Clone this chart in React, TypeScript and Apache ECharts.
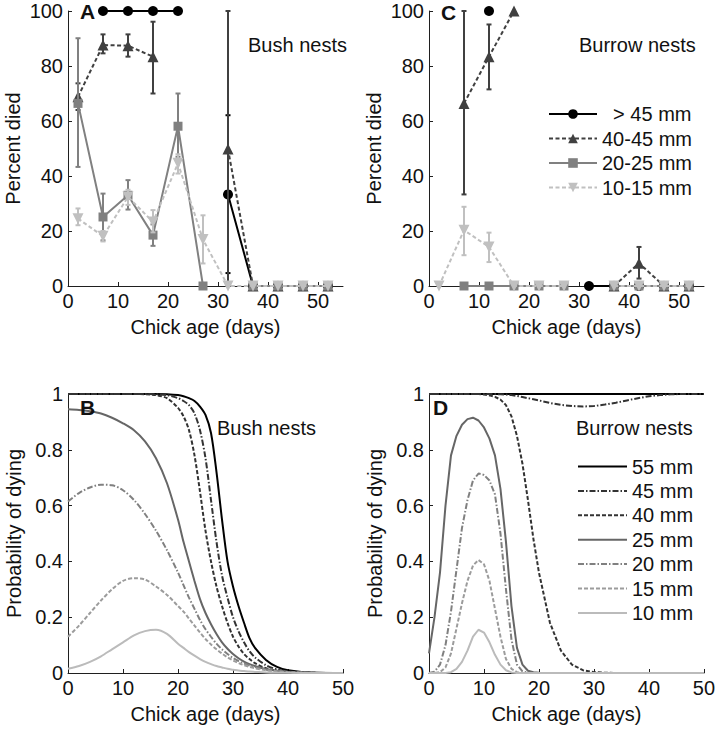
import React, { useEffect, useRef } from 'react';
import * as echarts from 'echarts';

// ---------- Top panels (A: bush, C: burrow): observed percent died ----------
const ages = [2, 7, 12, 17, 22, 27, 32, 37, 42, 47, 52];
const classNames = ['> 45 mm', '40-45 mm', '20-25 mm', '10-15 mm'];

const bushGt45 = [null, 100, 100, 100, 100, null, 33.3, 0, 0, 0, 0];
const bushGt45Lo = [null, null, null, null, null, null, 4.7, null, null, null, null];
const bushGt45Hi = [null, null, null, null, null, null, 62.1, null, null, null, null];
const bush4045 = [68.8, 87.6, 87.4, 83.4, null, null, 49.8, 0, 0, 0, 0];
const bush4045Lo = [64, 84.6, 83.4, 70, null, null, 0, null, null, null, null];
const bush4045Hi = [73.7, 91.5, 91.5, 96.1, null, null, 100, null, null, null, null];
const bush2025 = [66.4, 25.1, 33, 18.5, 58.1, 0, null, 0, 0, 0, 0];
const bush2025Lo = [43.3, 16.6, 27.8, 14.6, 47, null, null, null, null, null, null];
const bush2025Hi = [90.1, 33.6, 38.5, 22.4, 70, null, null, null, null, null, null];
const bush1015 = [24.5, 18.1, 32.4, 23.3, 44.6, 16.9, 0, 0, 0, 0, 0];
const bush1015Lo = [22.1, 16.2, 29.5, 19.5, 40.9, 8.2, null, null, null, null, null];
const bush1015Hi = [28.2, 20, 35, 27.6, 47.9, 25.7, null, null, null, null, null];

const burGt45 = [null, null, 100, null, null, null, 0, 0, 0, 0, 0];
const burGt45Lo = [null, null, null, null, null, null, null, null, null, null, null];
const burGt45Hi = [null, null, null, null, null, null, null, null, null, null, null];
const bur4045 = [null, 66.4, 83.4, 100, null, null, null, 0, 8.3, 0, 0];
const bur4045Lo = [null, 33.3, 71.5, null, null, null, null, null, 2.7, null, null];
const bur4045Hi = [null, 100, 95.1, null, null, null, null, null, 14.2, null, null];
const bur2025 = [null, 0, 0, 0, 0, 0, null, 0, 0, 0, 0];
const bur2025Lo = [null, null, null, null, null, null, null, null, null, null, null];
const bur2025Hi = [null, null, null, null, null, null, null, null, null, null, null];
const bur1015 = [0, 20.3, 14.2, 0, 0, 0, null, 0, 0, 0, 0];
const bur1015Lo = [null, 11.2, 8.7, null, null, null, null, null, null, null, null];
const bur1015Hi = [null, 28.8, 19.4, null, null, null, null, null, null, null, null];

// ---------- Bottom panels (B: bush, D: burrow): model probability of dying ----------
const curveNames = ['55 mm', '45 mm', '40 mm', '25 mm', '20 mm', '15 mm', '10 mm'];

const xB = [0, 2, 4, 6, 8, 10, 12, 14, 16, 18, 20, 21, 22, 23, 24, 25, 26, 27, 28, 29, 30, 31, 32, 33, 34, 36, 38, 40, 45, 50];
const b55 = [1, 1, 1, 1, 1, 1, 1, 1, 1, 0.999, 0.996, 0.992, 0.985, 0.975, 0.955, 0.925, 0.86, 0.72, 0.55, 0.4, 0.31, 0.24, 0.18, 0.125, 0.09, 0.047, 0.022, 0.01, 0.001, 0];
const b45 = [1, 1, 1, 1, 1, 1, 1, 1, 0.999, 0.996, 0.985, 0.975, 0.96, 0.93, 0.87, 0.77, 0.62, 0.47, 0.35, 0.27, 0.2, 0.15, 0.11, 0.078, 0.056, 0.028, 0.013, 0.006, 0.0005, 0];
const b40 = [1, 1, 1, 1, 1, 1, 1, 0.999, 0.996, 0.985, 0.95, 0.92, 0.87, 0.78, 0.65, 0.51, 0.4, 0.31, 0.24, 0.18, 0.13, 0.095, 0.068, 0.05, 0.035, 0.017, 0.008, 0.004, 0.0003, 0];
const b25 = [0.945, 0.943, 0.938, 0.93, 0.915, 0.895, 0.87, 0.83, 0.77, 0.68, 0.55, 0.47, 0.4, 0.33, 0.265, 0.215, 0.175, 0.14, 0.11, 0.087, 0.068, 0.053, 0.041, 0.032, 0.025, 0.014, 0.008, 0.004, 0.0005, 0];
const b20 = [0.615, 0.645, 0.665, 0.675, 0.673, 0.655, 0.62, 0.57, 0.51, 0.44, 0.36, 0.315, 0.27, 0.23, 0.19, 0.157, 0.13, 0.105, 0.085, 0.068, 0.054, 0.043, 0.034, 0.027, 0.021, 0.012, 0.007, 0.004, 0.0005, 0];
const b15 = [0.13, 0.17, 0.215, 0.26, 0.3, 0.33, 0.34, 0.335, 0.31, 0.28, 0.24, 0.22, 0.195, 0.17, 0.145, 0.122, 0.102, 0.085, 0.07, 0.056, 0.045, 0.036, 0.028, 0.022, 0.017, 0.01, 0.006, 0.003, 0.0004, 0];
const b10 = [0.015, 0.025, 0.04, 0.06, 0.085, 0.11, 0.135, 0.15, 0.155, 0.14, 0.105, 0.09, 0.075, 0.062, 0.05, 0.04, 0.032, 0.025, 0.02, 0.015, 0.012, 0.009, 0.007, 0.005, 0.004, 0.002, 0.001, 0.0005, 0, 0];

const xD = [0, 1, 2, 3, 4, 5, 6, 7, 8, 9, 10, 11, 12, 13, 14, 15, 16, 17, 18, 19, 20, 22, 24, 26, 28, 30, 32, 34, 36, 38, 40, 42, 44, 46, 48, 50];
const d55 = [1, 1, 1, 1, 1, 1, 1, 1, 1, 1, 1, 1, 1, 1, 1, 1, 1, 1, 1, 1, 1, 1, 1, 1, 1, 1, 1, 1, 1, 1, 1, 1, 1, 1, 1, 1];
const d45 = [1, 1, 1, 1, 1, 1, 1, 1, 1, 1, 1, 1, 1, 0.999, 0.998, 0.996, 0.993, 0.989, 0.985, 0.981, 0.977, 0.968, 0.961, 0.957, 0.955, 0.957, 0.962, 0.969, 0.977, 0.985, 0.992, 0.996, 0.999, 1, 1, 1];
const d40 = [1, 1, 1, 1, 1, 1, 1, 1, 1, 1, 0.998, 0.995, 0.99, 0.98, 0.96, 0.92, 0.85, 0.75, 0.62, 0.48, 0.36, 0.18, 0.08, 0.03, 0.01, 0.003, 0.001, 0, 0, 0, 0, 0, 0, 0, 0, 0];
const d25 = [0.07, 0.2, 0.36, 0.6, 0.78, 0.85, 0.89, 0.91, 0.915, 0.905, 0.88, 0.84, 0.78, 0.66, 0.47, 0.24, 0.09, 0.03, 0.008, 0.003, 0.001, 0, 0, 0, 0, 0, 0, 0, 0, 0, 0, 0, 0, 0, 0, 0];
const d20 = [0, 0.005, 0.03, 0.1, 0.22, 0.37, 0.52, 0.62, 0.69, 0.715, 0.71, 0.69, 0.64, 0.5, 0.3, 0.12, 0.03, 0.006, 0.001, 0, 0, 0, 0, 0, 0, 0, 0, 0, 0, 0, 0, 0, 0, 0, 0, 0];
const d15 = [0, 0, 0.003, 0.02, 0.07, 0.16, 0.25, 0.33, 0.385, 0.405, 0.39, 0.33, 0.23, 0.13, 0.05, 0.015, 0.003, 0, 0, 0, 0, 0, 0, 0, 0, 0, 0, 0, 0, 0, 0, 0, 0, 0, 0, 0];
const d10 = [0, 0, 0, 0, 0.003, 0.015, 0.04, 0.08, 0.13, 0.155, 0.145, 0.11, 0.065, 0.03, 0.01, 0.002, 0, 0, 0, 0, 0, 0, 0, 0, 0, 0, 0, 0, 0, 0, 0, 0, 0, 0, 0, 0];

const FONT = '"Liberation Sans", Arial, Helvetica, sans-serif';
const AXIS_COLOR = '#1f1f1f';
const TEXT_COLOR = '#111111';

const topStyles = [
  { color: '#000000', symbol: 'circle', size: 10, type: 'solid' as any, rotate: 0 },
  { color: '#404040', symbol: 'triangle', size: 11, type: [4, 2.5] as any, rotate: 0 },
  { color: '#808080', symbol: 'rect', size: 9, type: 'solid' as any, rotate: 0 },
  { color: '#c0c0c0', symbol: 'triangle', size: 11, type: [4, 2.5] as any, rotate: 180 },
];
const curveStyles = [
  { color: '#000000', type: 'solid' as any },
  { color: '#333333', type: [6, 2, 1.5, 2] as any },
  { color: '#333333', type: [4, 2] as any },
  { color: '#666666', type: 'solid' as any },
  { color: '#808080', type: [6, 2, 1.5, 2] as any },
  { color: '#9c9c9c', type: [4, 2] as any },
  { color: '#bbbbbb', type: 'solid' as any },
];

function pairs(xs: number[], ys: (number | null)[]) {
  return xs.map((x, i) => [x, ys[i] === null ? null : ys[i]]);
}
function errData(lo: (number | null)[], hi: (number | null)[]) {
  const out: number[][] = [];
  ages.forEach((a, i) => {
    const l = lo[i];
    const h = hi[i];
    if (l !== null && h !== null) out.push([a, l, h]);
  });
  return out;
}
function errRender(color: string) {
  return (params: any, api: any) => {
    const x = api.value(0);
    const p1 = api.coord([x, api.value(1)]);
    const p2 = api.coord([x, api.value(2)]);
    const w = 2.5;
    const style = { stroke: color, lineWidth: 2 };
    return {
      type: 'group',
      children: [
        { type: 'line', shape: { x1: p1[0], y1: p1[1], x2: p2[0], y2: p2[1] }, style },
        { type: 'line', shape: { x1: p1[0] - w, y1: p1[1], x2: p1[0] + w, y2: p1[1] }, style },
        { type: 'line', shape: { x1: p2[0] - w, y1: p2[1], x2: p2[0] + w, y2: p2[1] }, style },
      ],
    };
  };
}

function topSeries(axis: number, values: (number | null)[][], lows: (number | null)[][], highs: (number | null)[][]) {
  const out: any[] = [];
  values.forEach((vals, k) => {
    const s = topStyles[k];
    const ed = errData(lows[k], highs[k]);
    if (ed.length) {
      out.push({
        type: 'custom',
        name: classNames[k] + ' error',
        xAxisIndex: axis,
        yAxisIndex: axis,
        renderItem: errRender(s.color),
        encode: { x: 0, y: [1, 2] },
        data: ed,
        clip: false,
        z: 2 + k * 2,
      });
    }
    out.push({
      type: 'line',
      name: classNames[k],
      xAxisIndex: axis,
      yAxisIndex: axis,
      data: pairs(ages, vals),
      symbol: s.symbol,
      symbolSize: s.size,
      symbolRotate: s.rotate,
      showAllSymbol: true,
      connectNulls: false,
      clip: false,
      lineStyle: { color: s.color, width: 2, type: s.type },
      itemStyle: { color: s.color, borderColor: s.color, borderWidth: 0 },
      z: 3 + k * 2,
    });
  });
  return out;
}

function curveSeries(axis: number, xs: number[], values: number[][], smooth: number | boolean) {
  return values.map((vals, k) => ({
    type: 'line',
    name: curveNames[k],
    xAxisIndex: axis,
    yAxisIndex: axis,
    data: pairs(xs, vals),
    symbol: 'none',
    smooth,
    clip: false,
    lineStyle: { color: curveStyles[k].color, width: 2, type: curveStyles[k].type },
    itemStyle: { color: curveStyles[k].color },
    z: 2 + k,
  }));
}

const axisCommon = {
  axisLine: { show: true, lineStyle: { color: AXIS_COLOR, width: 1 } },
  axisTick: { show: true, inside: true, length: 4, lineStyle: { color: AXIS_COLOR } },
  splitLine: { show: false },
  nameLocation: 'middle' as any,
  nameTextStyle: { fontSize: 20, color: TEXT_COLOR, fontFamily: FONT },
};
const tickText = { fontSize: 20, color: TEXT_COLOR, fontFamily: FONT };

function xAxisTop(grid: number) {
  return {
    ...axisCommon,
    type: 'value',
    gridIndex: grid,
    min: 0,
    max: 55,
    interval: 10,
    name: 'Chick age (days)',
    nameGap: 31,
    axisLabel: { ...tickText, margin: 5, showMaxLabel: false },
  };
}
function xAxisBottom(grid: number) {
  return {
    ...axisCommon,
    type: 'value',
    gridIndex: grid,
    min: 0,
    max: 50,
    interval: 10,
    name: 'Chick age (days)',
    nameGap: 31,
    axisLabel: { ...tickText, margin: 5 },
  };
}
function yAxisTop(grid: number) {
  return {
    ...axisCommon,
    type: 'value',
    gridIndex: grid,
    min: 0,
    max: 100,
    interval: 20,
    name: 'Percent died',
    nameGap: 45,
    axisLabel: { ...tickText, margin: 5 },
  };
}
function yAxisBottom(grid: number) {
  return {
    ...axisCommon,
    type: 'value',
    gridIndex: grid,
    min: 0,
    max: 1,
    interval: 0.2,
    name: 'Probability of dying',
    nameGap: 44,
    axisLabel: { ...tickText, margin: 5 },
  };
}

function label(text: string, x: number, y: number, bold = false) {
  return {
    type: 'text',
    x,
    y,
    style: {
      text,
      fill: TEXT_COLOR,
      fontSize: bold ? 21 : 20,
      fontWeight: bold ? 'bold' : 'normal',
      fontFamily: FONT,
      align: 'left',
      verticalAlign: 'middle',
    },
    z: 10,
  };
}

export default function App() {
  const ref = useRef<HTMLDivElement>(null);
  useEffect(() => {
    if (!ref.current) return;
    const chart = echarts.init(ref.current, null, { renderer: 'svg' });
    const option: any = {
      animation: false,
      backgroundColor: '#ffffff',
      grid: [
        { left: 68, top: 11, width: 275, height: 275 },
        { left: 429, top: 11, width: 275, height: 275 },
        { left: 68, top: 394, width: 275, height: 279 },
        { left: 429, top: 394, width: 275, height: 279 },
      ],
      xAxis: [xAxisTop(0), xAxisTop(1), xAxisBottom(2), xAxisBottom(3)],
      yAxis: [yAxisTop(0), yAxisTop(1), yAxisBottom(2), yAxisBottom(3)],
      legend: [
        {
          orient: 'vertical',
          left: 543,
          top: 99,
          itemWidth: 48,
          itemHeight: 12,
          itemGap: 4.5,
          selectedMode: false,
          formatter: (n: string) => (n === '> 45 mm' ? '  > 45 mm' : n),
          textStyle: { fontSize: 20, lineHeight: 20, color: TEXT_COLOR, fontFamily: FONT },
          data: classNames.map((n, k) => ({
            name: n,
            lineStyle: { color: topStyles[k].color, width: 2, type: topStyles[k].type },
          })),
        },
        {
          orient: 'vertical',
          left: 572,
          top: 451.5,
          itemWidth: 49,
          itemHeight: 11,
          itemGap: 4.4,
          selectedMode: false,
          itemStyle: { opacity: 0 },
          textStyle: { fontSize: 20, lineHeight: 20, color: TEXT_COLOR, fontFamily: FONT },
          data: curveNames.map((n, k) => ({
            name: n,
            lineStyle: { color: curveStyles[k].color, width: 2, type: curveStyles[k].type },
          })),
        },
      ],
      graphic: [
        label('A', 80, 11, true),
        label('C', 441, 12, true),
        label('B', 80, 407, true),
        label('D', 433, 407, true),
        label('Bush nests', 248, 45),
        label('Burrow nests', 579, 45),
        label('Bush nests', 217, 428),
        label('Burrow nests', 576, 428),
      ],
      series: [
        ...topSeries(0, [bushGt45, bush4045, bush2025, bush1015], [bushGt45Lo, bush4045Lo, bush2025Lo, bush1015Lo], [bushGt45Hi, bush4045Hi, bush2025Hi, bush1015Hi]),
        ...topSeries(1, [burGt45, bur4045, bur2025, bur1015], [burGt45Lo, bur4045Lo, bur2025Lo, bur1015Lo], [burGt45Hi, bur4045Hi, bur2025Hi, bur1015Hi]),
        ...curveSeries(2, xB, [b55, b45, b40, b25, b20, b15, b10], 0.3),
        ...curveSeries(3, xD, [d55, d45, d40, d25, d20, d15, d10], false),
      ],
    };
    chart.setOption(option);
    return () => chart.dispose();
  }, []);
  return (
    <div
      ref={ref}
      style={{ position: 'absolute', left: 0, top: 0, width: 718, height: 729, background: '#ffffff' }}
    />
  );
}
